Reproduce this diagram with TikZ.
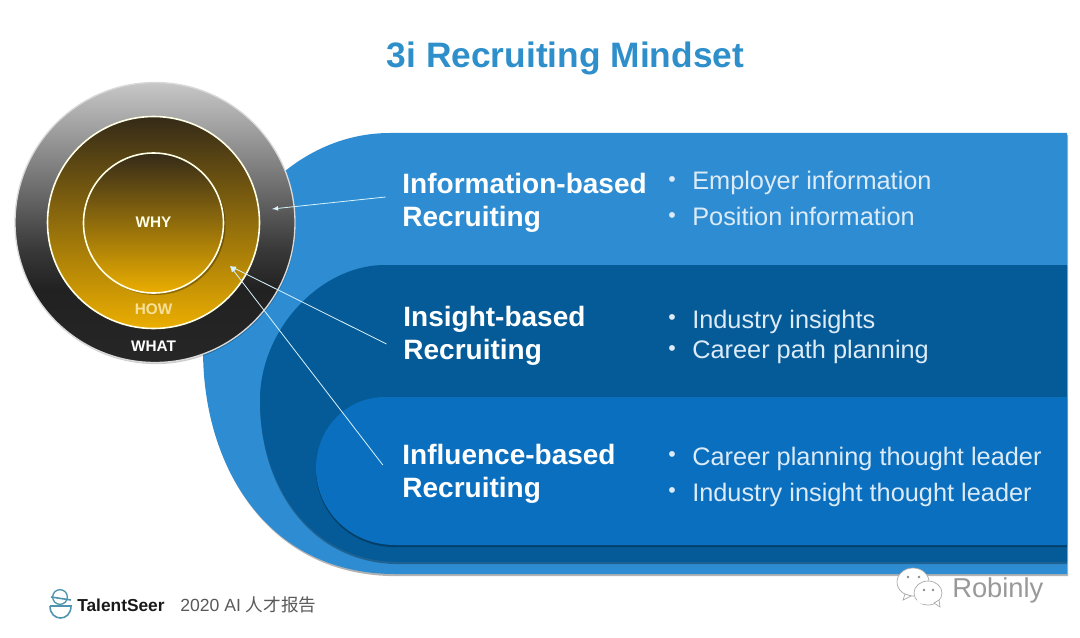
\documentclass[tikz,border=0pt]{standalone}
\usepackage{fontspec}
\setmainfont{Liberation Sans}
\newfontfamily\cjkfont{Noto Sans CJK SC}
\usetikzlibrary{arrows,shadows}

\definecolor{titleblue}{HTML}{2E8FCB}
\definecolor{bandone}{HTML}{2E8DD2}
\definecolor{bandtwo}{HTML}{045B98}
\definecolor{bandthree}{HTML}{0A6FBE}
\definecolor{itemcol}{HTML}{DCEBF7}
\definecolor{goldtop}{HTML}{342A18}
\definecolor{goldbot}{HTML}{EBAE00}
\definecolor{howcol}{HTML}{F6E09A}
\definecolor{logoteal}{HTML}{4F94AC}

\pgfdeclareverticalshading{whatshade}{100bp}{
  color(0bp)=(black!85); color(25bp)=(black!85); color(38bp)=(black!87);
  color(45bp)=(black!78); color(60bp)=(black!50); color(75bp)=(black!22); color(100bp)=(black!22)}

\begin{document}
\begin{tikzpicture}[x=0.75pt,y=-0.75pt]

  \tikzstyle{bandshadow}=[drop shadow={shadow xshift=0.8pt,shadow yshift=-1.6pt,opacity=0.3,fill=black}]
  \tikzstyle{innershadow}=[drop shadow={shadow xshift=0pt,shadow yshift=-1.6pt,opacity=0.3,fill=black}]
  \tikzstyle{ringnode}=[circle,draw=white,inner sep=0pt,text=white,font=\bfseries\fontsize{11.5}{13}\selectfont]
  \tikzstyle{goldring}=[ringnode,draw=white!90!yellow,line width=1.2pt,top color=goldtop,bottom color=goldbot]
  \tikzstyle{wordnode}=[font=\bfseries\fontsize{11.5}{13}\selectfont]
  \tikzstyle{labnode}=[anchor=west,align=left,text=white,inner xsep=12.5pt,inner ysep=0pt,font=\bfseries\fontsize{21}{24.75}\selectfont]
  \tikzstyle{itemnode}=[anchor=west,text=itemcol,inner sep=0pt,font=\fontsize{19}{22}\selectfont]
  \tikzstyle{dotnode}=[text=itemcol,inner sep=0pt,font=\fontsize{16}{18}\selectfont]
  \tikzstyle{pointer}=[draw=white!85!cyan,->,>=latex,line width=0.6pt]
  \tikzstyle{bubble}=[draw=black!35,fill=white,line width=0.5pt]

  \useasboundingbox (0,0) rectangle (1080,638);

  % title
  \node[text=titleblue,font=\bfseries\fontsize{26.5}{31}\selectfont] (title) at (565.5,58) {3i Recruiting Mindset};

  % bands
  \fill[bandone,bandshadow] (1067,133) -- (390,133)
    .. controls (285,133) and (203,235) .. (203,350)
    .. controls (203,470) and (270,574) .. (395,574) -- (1067,574) -- cycle;
  \fill[bandtwo,innershadow] (1067,265) -- (385,265)
    .. controls (320,265) and (260,330) .. (260,400)
    .. controls (260,485) and (310,562) .. (400,562) -- (1067,562) -- cycle;
  \fill[bandthree,innershadow] (1067,397) -- (385,397)
    .. controls (345,397) and (316,430) .. (316,468)
    .. controls (316,510) and (350,545) .. (395,545) -- (1067,545) -- cycle;

  % circles
  \node[ringnode,shading=whatshade,draw=black!15,line width=1pt,minimum size=210pt,
    drop shadow={shadow xshift=0.6pt,shadow yshift=-1.2pt,opacity=0.2,fill=black}] (what) at (155,222.5) {};
  \node[goldring,minimum size=159pt] (how) at (153.5,222.5) {};
  \node[goldring,minimum size=105pt,drop shadow={shadow xshift=1.5pt,shadow yshift=-1.5pt,opacity=0.3,fill=black}] (why) at (153.5,223) {};
  \node[wordnode,text=white!90!yellow] (whylab) at (153.5,222) {WHY};
  \node[wordnode,text=howcol] (howlab) at (153.5,309) {HOW};
  \node[wordnode,text=white] (whatlab) at (153.5,346) {WHAT};

  % labels
  \node[labnode] (labinfo) at (385.5,203) {Information-based\\Recruiting};
  \node[labnode] (labins) at (386.5,336) {Insight-based\\Recruiting};
  \node[labnode] (labinf) at (385.5,474) {Influence-based\\Recruiting};

  % items
  \node[itemnode] (emp) at (692,183) {Employer information};
  \node[itemnode] (pos) at (692,216) {Position information};
  \node[itemnode] (ind) at (692,322) {Industry insights};
  \node[itemnode] (car) at (692,352) {Career path planning};
  \node[itemnode] (lead) at (692,459) {Career planning thought leader};
  \node[itemnode] (thou) at (692,495) {Industry insight thought leader};
  \foreach \n/\yy in {emp/182,pos/218,ind/320,car/351,lead/457,thou/493}
    \node[dotnode] (dot\n) at (672,\yy) {•};

  % pointers
  \coordinate (whatpt) at (272,209);
  \coordinate (howpt) at (230,266);
  \draw[pointer] ([yshift=4.5pt]labinfo.west) -- (whatpt);
  \draw[pointer] ([yshift=-6pt]labins.west) -- (howpt);
  \draw[pointer] ([xshift=-2pt,yshift=6.75pt]labinf.west) -- (howpt);

  % logo
  \node[circle,draw=logoteal,line width=1pt,minimum size=11pt,inner sep=0pt] (head) at (60,597) {};
  \draw[logoteal,line width=1.2pt] (head.center) ++(-9,0) -- ++(20,3);
  \draw[logoteal,line width=1.2pt] (50,606) -- (71,606) .. controls (71,622) and (50,622) .. (50,606);
  \node[anchor=west,inner sep=0pt,text=black!90,font=\bfseries\fontsize{13}{16}\selectfont] (seer) at (77,605) {TalentSeer};
  \node[anchor=west,inner sep=0pt,text=black!65,font=\fontsize{13.2}{16}\selectfont] (report) at (180,605) {2020 AI {\cjkfont 人才报告}};

  % watermark
  \filldraw[bubble] (913,582) ellipse (16 and 14);
  \filldraw[bubble] (905,594) -- (903,600) -- (911,596) -- cycle;
  \filldraw[bubble] (928,593) ellipse (14 and 12);
  \filldraw[bubble] (934,603) -- (940,607) -- (939,600) -- cycle;
  \fill[white] (925,600) ellipse (8 and 4);
  \foreach \xx/\yy in {908/577,919/577,924/590,933/590}
    \fill[black!45] (\xx,\yy) circle (1.4);
  \node[anchor=west,inner sep=0pt,text=black!40,font=\fontsize{20.5}{24}\selectfont] (robin) at (952,590) {Robinly};

\end{tikzpicture}
\end{document}
